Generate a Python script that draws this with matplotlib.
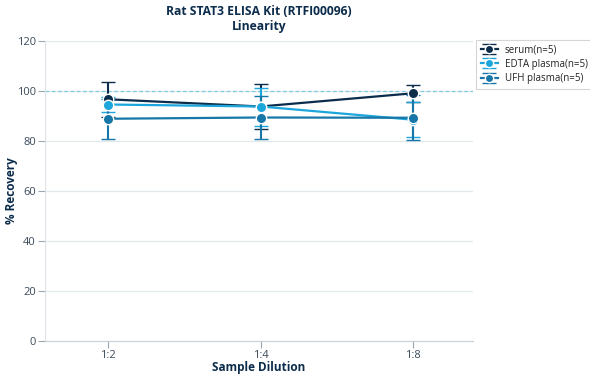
import matplotlib
matplotlib.use('Agg')
import matplotlib.pyplot as plt
import numpy as np

plt.rcParams['font.family'] = ['Open Sans', 'DejaVu Sans']

# data
dilutions = ['1:2', '1:4', '1:8']
series_names = ['serum(n=5)', 'EDTA plasma(n=5)', 'UFH plasma(n=5)']
serum = [96.7, 93.8, 99.1]
serum_err = [7.0, 9.0, 3.4]
edta = [94.6, 93.8, 88.5]
edta_err = [3.0, 7.6, 7.0]
ufh = [88.9, 89.4, 89.3]
ufh_err = [8.0, 8.6, 9.0]

colors = ['#0c2c4c', '#1ca6db', '#1677a8']
text_color = '#0c2c4c'
tick_color = '#3a4a5a'

fig = plt.figure(figsize=(5.9, 3.8), dpi=100)
ax = fig.add_axes([45/590, 1 - 341/380, (473-45)/590, 300/380])

x = np.arange(len(dilutions))
ax.axhline(100, color='#7fcbe0', linestyle=(0, (3, 2)), linewidth=0.9, zorder=1)

for vals, errs, c, name in zip([serum, edta, ufh], [serum_err, edta_err, ufh_err], colors, series_names):
    ax.errorbar(x, vals, yerr=errs, color=c, linewidth=1.6, elinewidth=1.5,
                capsize=5, capthick=1.5, marker='o', markersize=7.5,
                markeredgecolor='white', markeredgewidth=1.0, label=name, zorder=3)

ax.set_xlim(-0.41, 2.39)
ax.set_ylim(0, 120)
ax.set_yticks(range(0, 121, 20))
ax.set_xticks(x)
ax.set_xticklabels(dilutions)
ax.yaxis.grid(True, color='#e3e8ec', linewidth=0.9)
ax.set_axisbelow(True)
for s in ['top', 'right']:
    ax.spines[s].set_visible(False)
ax.spines['left'].set_color('#dde3e8')
ax.spines['bottom'].set_color('#c8d0d8')
ax.tick_params(axis='both', colors='#9aa6b0', labelcolor=tick_color, labelsize=8, length=5, pad=1.5)

ax.set_xlabel('Sample Dilution', fontsize=8.5, fontweight='bold', color=text_color, labelpad=0)
ax.set_ylabel('% Recovery', fontsize=8.5, fontweight='bold', color=text_color)
ax.yaxis.set_label_coords(-0.062, 0.5)
fig.text((45 + 473) / 2 / 590, 1 - 19/380, 'Rat STAT3 ELISA Kit (RTFI00096)\nLinearity',
         ha='center', va='center', fontsize=8.7, fontweight='bold', color=text_color, linespacing=1.15)

leg = ax.legend(loc='upper left', bbox_to_anchor=(1.003, 1.01), fontsize=7, frameon=True,
                fancybox=False, borderaxespad=0.2, handlelength=1.8, handletextpad=0.7,
                labelspacing=0.35, borderpad=0.45, markerscale=0.8)
leg.get_frame().set_edgecolor('#cccccc')
leg.get_frame().set_linewidth(0.8)
for t in leg.get_texts():
    t.set_color('#222222')

fig.savefig('out.png', dpi=100)
